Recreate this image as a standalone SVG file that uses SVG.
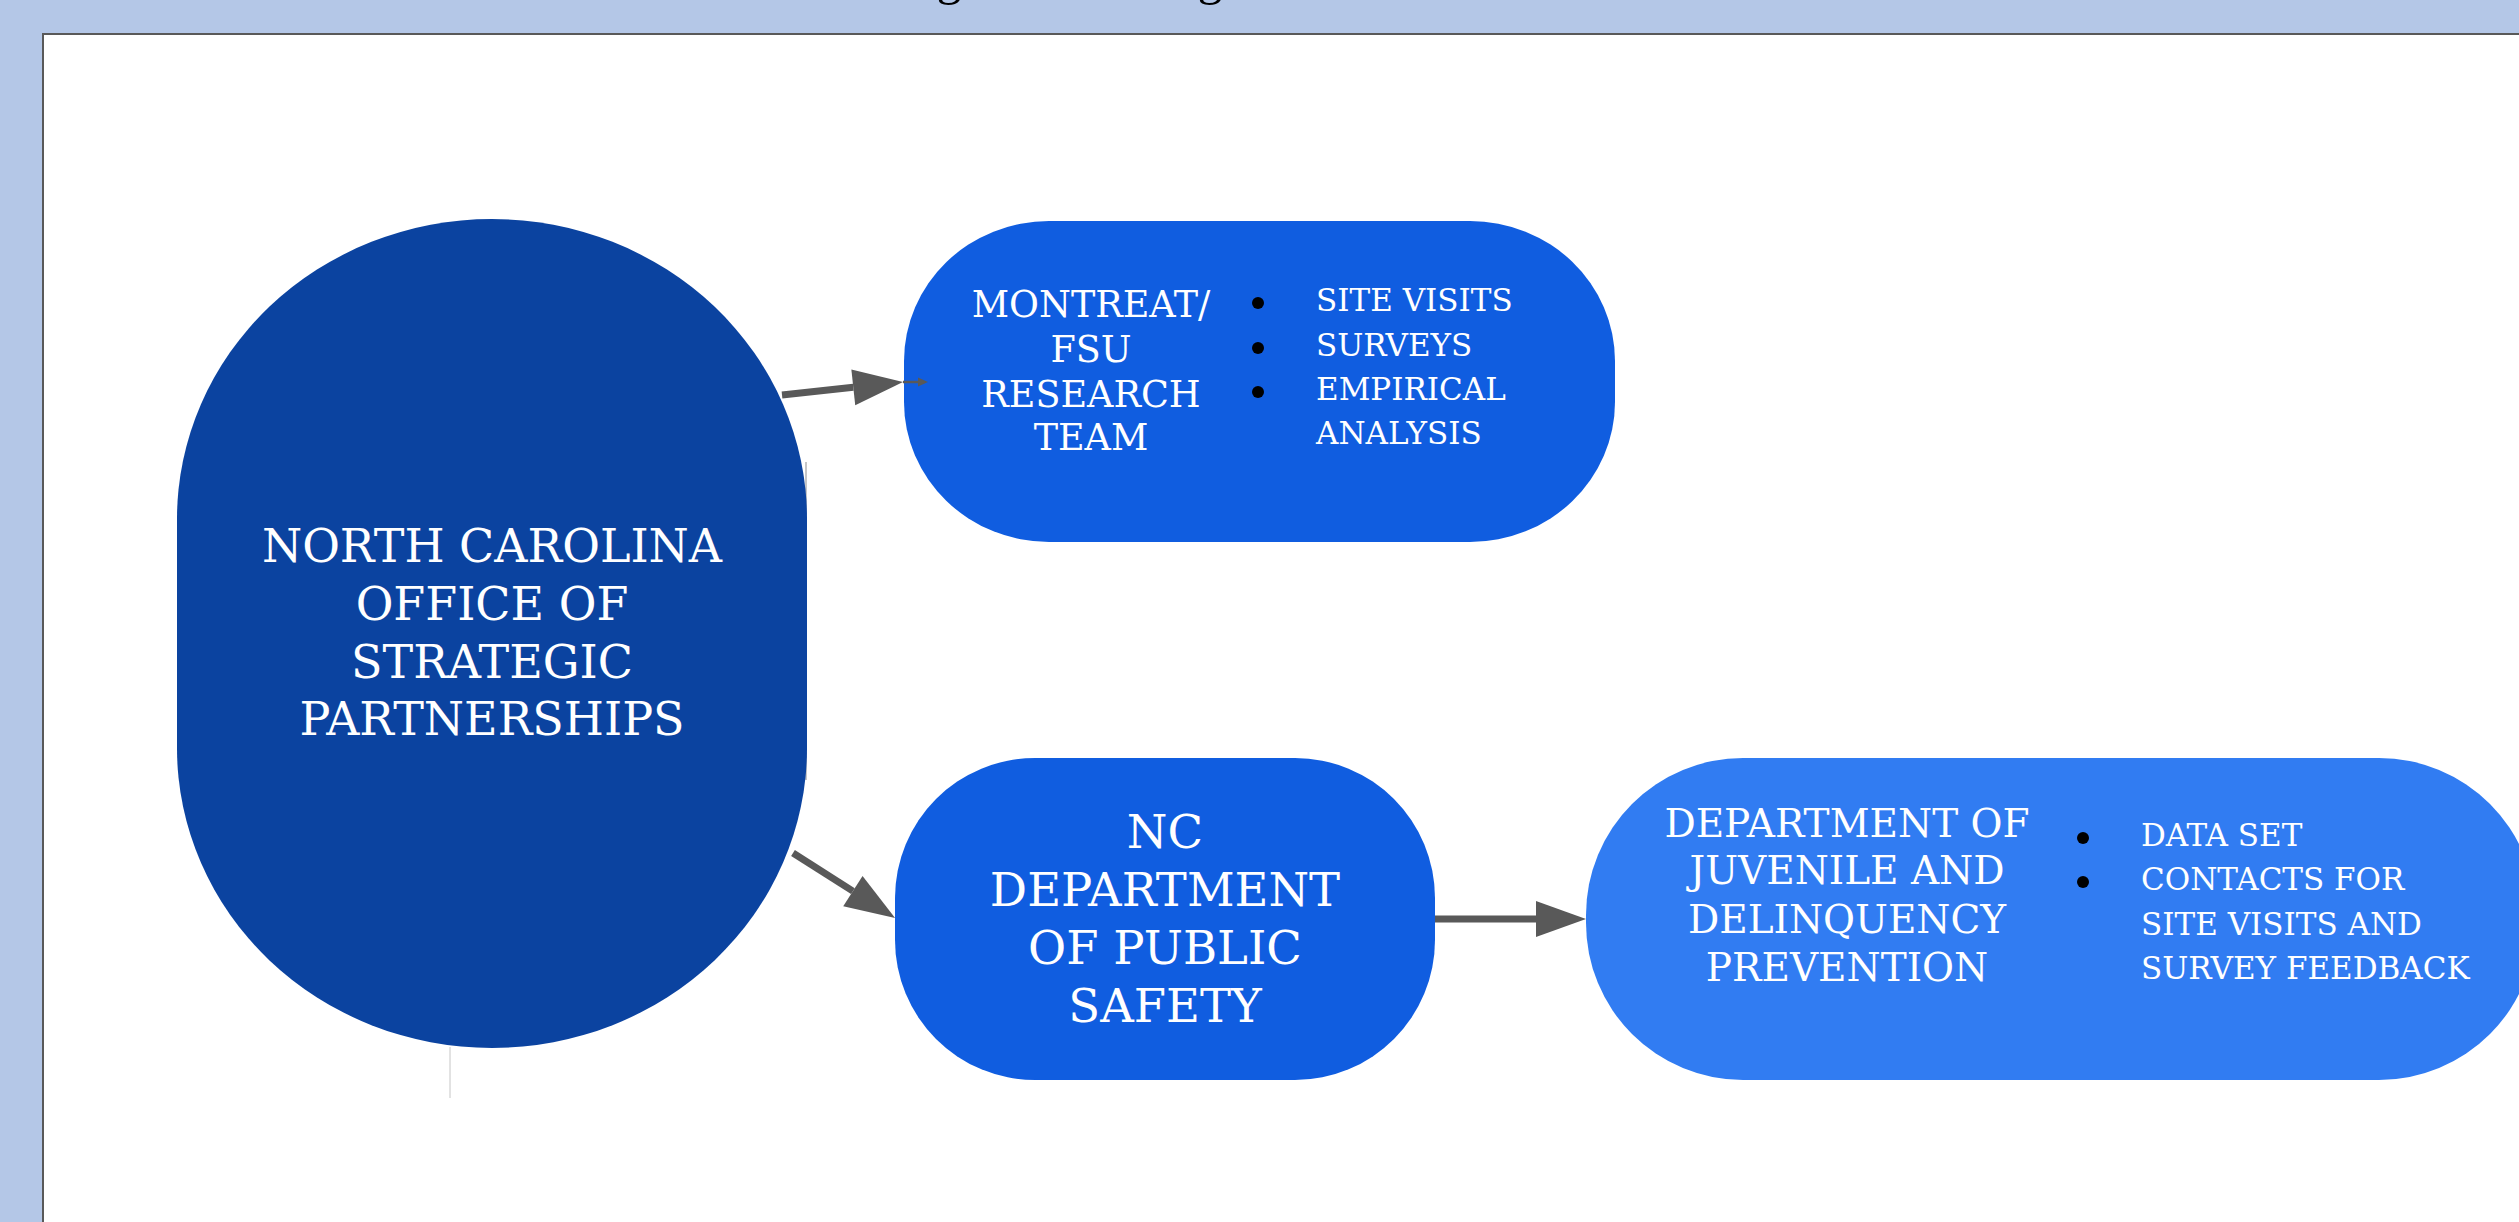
<svg xmlns="http://www.w3.org/2000/svg" width="2519" height="1222" viewBox="0 0 2519 1222">
<style>
.t{font-family:"DejaVu Serif","Liberation Serif",serif;fill:#ffffff}
.c{text-anchor:middle}
.conn{stroke:#595959;stroke-width:7;fill:none}
.dot{fill:#000000}
.guide{stroke:#c6c6c6;fill:none}
</style>
<defs>
<marker id="ah" markerUnits="userSpaceOnUse" markerWidth="50" markerHeight="36" refX="0" refY="18" orient="auto" overflow="visible">
<path d="M0,0 L50,18 L0,36 Z" fill="#595959"/>
</marker>
</defs>
<rect x="0" y="0" width="2519" height="1222" fill="#b4c7e7"/>
<text x="949" y="-6" font-family="Liberation Serif, serif" font-size="50" text-anchor="middle" fill="#000">g</text>
<text x="1210" y="-6" font-family="Liberation Serif, serif" font-size="50" text-anchor="middle" fill="#000">g</text>
<rect x="43" y="34" width="2600" height="1300" fill="#ffffff" stroke="#595959" stroke-width="2"/>
<line class="guide" x1="806" y1="462" x2="806" y2="780" stroke-width="2"/>
<line class="guide" x1="450" y1="1047" x2="450" y2="1098" stroke-width="1"/>
<g id="node-ncosp">
<rect x="177" y="219" width="630" height="829" rx="315" ry="300" fill="#0b43a0"/>
<text class="t c" font-size="46"><tspan x="492" y="562">NORTH CAROLINA</tspan><tspan x="492" y="620">OFFICE OF</tspan><tspan x="492" y="678">STRATEGIC</tspan><tspan x="492" y="735">PARTNERSHIPS</tspan></text>
</g>
<g id="node-montreat">
<rect x="904" y="221" width="711" height="321" rx="145" ry="140" fill="#105de0"/>
<text class="t c" font-size="36.5"><tspan x="1091" y="317">MONTREAT/</tspan><tspan x="1091" y="362">FSU</tspan><tspan x="1091" y="407">RESEARCH</tspan><tspan x="1091" y="450">TEAM</tspan></text>
<circle class="dot" cx="1258" cy="303" r="6"/>
<circle class="dot" cx="1258" cy="348" r="6"/>
<circle class="dot" cx="1258" cy="392" r="6"/>
<text class="t" font-size="31"><tspan x="1316" y="311">SITE VISITS</tspan><tspan x="1316" y="356">SURVEYS</tspan><tspan x="1316" y="400">EMPIRICAL</tspan><tspan x="1316" y="444">ANALYSIS</tspan></text>
</g>
<g id="node-ncdps">
<rect x="895" y="758" width="540" height="322" rx="140" ry="140" fill="#105de0"/>
<text class="t c" font-size="46.5"><tspan x="1165" y="848">NC</tspan><tspan x="1165" y="906">DEPARTMENT</tspan><tspan x="1165" y="964">OF PUBLIC</tspan><tspan x="1165" y="1022">SAFETY</tspan></text>
</g>
<g id="node-djjdp">
<rect x="1586" y="758" width="950" height="322" rx="157" ry="157" fill="#317cf2"/>
<text class="t c" font-size="39"><tspan x="1847" y="837">DEPARTMENT OF</tspan><tspan x="1847" y="884">JUVENILE AND</tspan><tspan x="1847" y="933">DELINQUENCY</tspan><tspan x="1847" y="981">PREVENTION</tspan></text>
<circle class="dot" cx="2083" cy="838" r="6"/>
<circle class="dot" cx="2083" cy="882" r="6"/>
<text class="t" font-size="31"><tspan x="2141" y="846">DATA SET</tspan><tspan x="2141" y="890">CONTACTS FOR</tspan><tspan x="2141" y="935">SITE VISITS AND</tspan><tspan x="2141" y="979">SURVEY FEEDBACK</tspan></text>
</g>
<g id="connectors">
<line class="conn" x1="782" y1="395" x2="853.3" y2="387.3" marker-end="url(#ah)"/>
<line class="conn" x1="793" y1="853" x2="852.9" y2="891.1" marker-end="url(#ah)"/>
<line class="conn" x1="1435" y1="919" x2="1536" y2="919" marker-end="url(#ah)"/>
<line x1="903" y1="382" x2="918" y2="382" stroke="#595959" stroke-width="2.5"/>
<path d="M918,377.5 L928,382 L918,386.5 Z" fill="#595959"/>
</g>
</svg>
